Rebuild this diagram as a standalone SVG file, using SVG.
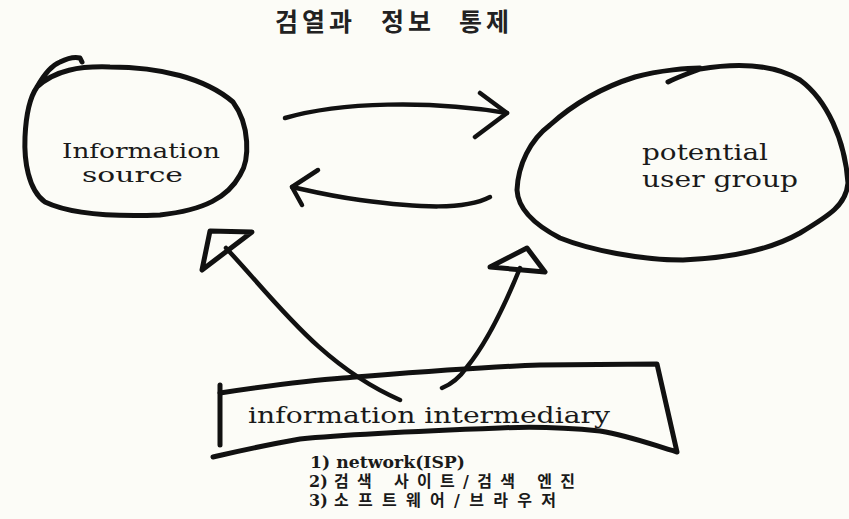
<svg xmlns="http://www.w3.org/2000/svg" width="849" height="519" viewBox="0 0 849 519">
<style>
.ink{fill:none;stroke:#111;stroke-linecap:round;stroke-linejoin:round}
.thick{stroke-width:5}
.med{stroke-width:4.5}
.lbl{font-family:"DejaVu Serif","Liberation Serif",serif;fill:#1a1a1a}
.ko{font-family:"DejaVu Serif","Noto Sans CJK KR",serif;font-weight:bold;fill:#1a1a1a}
.title{font-family:"Noto Sans CJK KR",sans-serif;font-size:25px;font-weight:bold;fill:#222}
</style>
<rect x="0" y="0" width="849" height="519" fill="#fcfcf7"/>
<text class="title" y="31" x="275 302 329 356 381 408 435 459 486">검열과 정보 통제</text>

<g id="node-information-source">
<path class="ink thick" d="M37,87 C 55,70 80,66 110,67 C 160,67 205,78 233,102 C 250,125 250,160 240,175 C 228,197 205,210 160,215 C 110,217 70,214 45,202 C 28,190 24,160 25,137 C 26,115 30,97 37,87 C 42,78 50,66 60,62 C 68,58 76,57 80,58 L82,62"/>
<text class="lbl" x="62" y="158" font-size="21" fill="#3c3c3c" textLength="158" lengthAdjust="spacingAndGlyphs">Information</text>
<text class="lbl" x="82" y="182" font-size="21" fill="#3c3c3c" textLength="101" lengthAdjust="spacingAndGlyphs">source</text>
</g>

<g id="node-potential-user-group">
<path class="ink thick" d="M668,82 C 680,76 690,73 700,69 C 730,64 770,62 800,80 C 827,100 845,140 848,183 C 846,205 830,215 800,233 C 770,250 730,258 683,260 C 640,260 590,250 560,238 C 535,225 518,210 517,190 C 518,165 530,140 550,125 C 570,107 600,88 635,77 C 660,70 690,68 700,68"/>
<text class="lbl" x="642" y="160" font-size="22" textLength="126" lengthAdjust="spacingAndGlyphs">potential</text>
<text class="lbl" x="642" y="187" font-size="22" textLength="156" lengthAdjust="spacingAndGlyphs">user group</text>
</g>

<g id="node-information-intermediary">
<path class="ink thick" d="M220,385 L220,445"/>
<path class="ink thick" d="M220,393 C 260,387 300,381 343,378 C 420,372 480,367 540,365 L657,364 L677,452 C 650,444 630,436 600,431 C 570,428 540,426 500,428 C 420,431 330,436 300,439 C 260,446 235,452 213,457"/>
<text class="lbl" x="248" y="423" font-size="23" textLength="362" lengthAdjust="spacingAndGlyphs">information intermediary</text>
</g>

<g id="list">
<text class="ko" x="310" y="468" font-size="16" textLength="155" lengthAdjust="spacingAndGlyphs">1) network(ISP)</text>
<text class="ko" y="487" font-size="16"><tspan x="309">2)</tspan><tspan x="334" textLength="241">검색 사이트/검색 엔진</tspan></text>
<text class="ko" y="506" font-size="16"><tspan x="309">3)</tspan><tspan x="334" textLength="222">소프트웨어/브라우저</tspan></text>
</g>

<g id="connectors">
<path class="ink med" d="M285,118 C 340,102 430,100 507,113"/>
<path class="ink med" d="M480,93 L507,113 L475,137"/>
<path class="ink med" d="M490,197 C 465,210 420,208 360,200 C 330,196 310,191 292,187"/>
<path class="ink med" d="M318,170 L292,187 L302,205"/>
<path class="ink med" d="M226,248 C 275,300 320,365 400,400"/>
<path class="ink thick" d="M210,231 L252,232 L202,270 Z"/>
<path class="ink med" d="M520,268 C 505,305 485,345 467,367 C 460,377 452,384 442,388"/>
<path class="ink thick" d="M490,267 L527,248 L545,272 Z"/>
</g>
</svg>
